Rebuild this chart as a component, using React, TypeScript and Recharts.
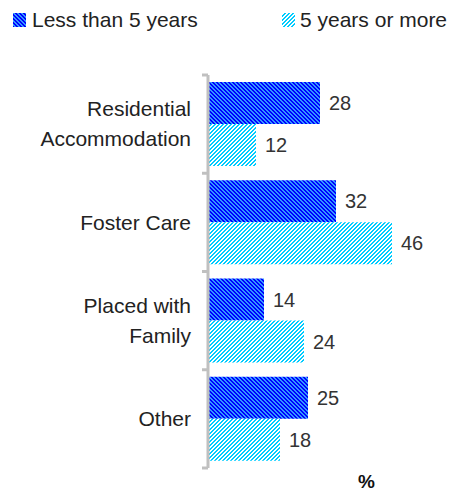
import React from "react";
import { BarChart, Bar, XAxis, YAxis, LabelList } from "recharts";

const categories = ["Residential Accommodation", "Foster Care", "Placed with Family", "Other"];
const categoryLines = [["Residential", "Accommodation"], ["Foster Care"], ["Placed with", "Family"], ["Other"]];
const lessThan5 = [28, 32, 14, 25];
const fiveOrMore = [12, 46, 24, 18];
const seriesNames = ["Less than 5 years", "5 years or more"];

const data = categories.map((name, i) => ({
  name,
  less: lessThan5[i],
  more: fiveOrMore[i],
}));

const W = 451;
const H = 492;
const M = { top: 75, right: 3, bottom: 24, left: 0 };
const AXIS_W = 208;
const BAND = (H - M.top - M.bottom) / categories.length;
const FONT = '"Liberation Sans", Arial, sans-serif';

const DARK = "#0000ff";
const DARK_LINE = "#3399ff";
const LIGHT = "#00ccff";
const LIGHT_LINE = "#ffffff";

// 4x4 pixel tile, 2px stripes; dir "\" or "/"
function Hatch({ id, color, line, dir }: { id: string; color: string; line: string; dir: "\\" | "/" }) {
  const cells: React.ReactNode[] = [];
  for (let y = 0; y < 4; y++) {
    for (let x = 0; x < 4; x++) {
      const k = dir === "\\" ? (((x - y) % 4) + 4) % 4 : (x + y) % 4;
      if (k < 2) cells.push(<rect key={`${x}-${y}`} x={x} y={y} width={1} height={1} fill={line} />);
    }
  }
  return (
    <pattern id={id} patternUnits="userSpaceOnUse" width="4" height="4">
      <rect width="4" height="4" fill={color} />
      {cells}
    </pattern>
  );
}

function Swatch({ id, color, line, dir }: { id: string; color: string; line: string; dir: "\\" | "/" }) {
  return (
    <svg width={13} height={14} style={{ display: "block" }}>
      <defs>
        <Hatch id={id} color={color} line={line} dir={dir} />
      </defs>
      <rect width={13} height={14} fill={`url(#${id})`} />
    </svg>
  );
}

function CategoryTick(props: any) {
  const { y, index } = props;
  const lines = categoryLines[index] || [];
  const lh = 30;
  const y0 = y - ((lines.length - 1) * lh) / 2;
  const top = y - BAND / 2;
  const bottom = y + BAND / 2;
  return (
    <g>
      <line x1={AXIS_W - 6} x2={AXIS_W} y1={top} y2={top} stroke="#c0c0c0" strokeWidth={3} />
      {index === categories.length - 1 && (
        <line x1={AXIS_W - 6} x2={AXIS_W} y1={bottom} y2={bottom} stroke="#c0c0c0" strokeWidth={3} />
      )}
      {lines.map((l, i) => (
        <text
          key={i}
          x={AXIS_W - 17}
          y={y0 + i * lh}
          dy="0.35em"
          textAnchor="end"
          fill="#222"
          fontSize={21}
          fontFamily={FONT}
        >
          {l}
        </text>
      ))}
    </g>
  );
}

export default function App() {
  return (
    <div style={{ position: "absolute", left: 0, top: 0, width: W, height: H, fontFamily: FONT }}>
      <div style={{ position: "absolute", left: 13, top: 13, display: "flex", alignItems: "center" }}>
        <Swatch id="lgDark" color={DARK} line={DARK_LINE} dir="\" />
        <span style={{ marginLeft: 6, fontSize: 21, color: "#222", lineHeight: "14px" }}>{seriesNames[0]}</span>
      </div>
      <div style={{ position: "absolute", left: 282, top: 13, display: "flex", alignItems: "center" }}>
        <Swatch id="lgLight" color={LIGHT} line={LIGHT_LINE} dir="/" />
        <span style={{ marginLeft: 5, fontSize: 21, color: "#222", lineHeight: "14px" }}>{seriesNames[1]}</span>
      </div>
      <BarChart width={W} height={H} data={data} layout="vertical" margin={M} barGap={0}>
        <defs>
          <Hatch id="darkHatch" color={DARK} line={DARK_LINE} dir="\" />
          <Hatch id="lightHatch" color={LIGHT} line={LIGHT_LINE} dir="/" />
        </defs>
        <XAxis type="number" domain={[0, 60]} hide />
        <YAxis
          type="category"
          dataKey="name"
          width={AXIS_W}
          axisLine={{ stroke: "#c0c0c0", strokeWidth: 3 }}
          tickLine={false}
          tick={<CategoryTick />}
          interval={0}
        />
        <Bar dataKey="less" name={seriesNames[0]} fill="url(#darkHatch)" barSize={42} isAnimationActive={false}>
          <LabelList dataKey="less" position="right" offset={9} fill="#333" fontSize={20} fontFamily={FONT} />
        </Bar>
        <Bar dataKey="more" name={seriesNames[1]} fill="url(#lightHatch)" barSize={42} isAnimationActive={false}>
          <LabelList dataKey="more" position="right" offset={9} fill="#333" fontSize={20} fontFamily={FONT} />
        </Bar>
      </BarChart>
      <div style={{ position: "absolute", left: 358, top: 472, fontSize: 19, lineHeight: "19px", fontWeight: "bold", color: "#111" }}>%</div>
    </div>
  );
}
